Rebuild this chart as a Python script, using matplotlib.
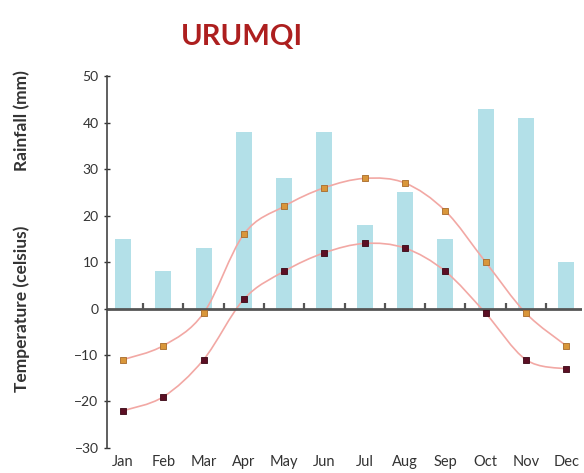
import numpy as np
import matplotlib.pyplot as plt
from matplotlib.path import Path
from matplotlib.patches import PathPatch

months = ["Jan", "Feb", "Mar", "Apr", "May", "Jun", "Jul", "Aug", "Sep", "Oct", "Nov", "Dec"]
rainfall = [15, 8, 13, 38, 28, 38, 18, 25, 15, 43, 41, 10]
temp_max = [-11, -8, -1, 16, 22, 26, 28, 27, 21, 10, -1, -8]
temp_min = [-22, -19, -11, 2, 8, 12, 14, 13, 8, -1, -11, -13]
yticks = [-30, -20, -10, 0, 10, 20, 30, 40, 50]

plt.rcParams["font.family"] = ["Lato", "DejaVu Sans"]


def smooth_path(xs, ys):
	# Catmull-Rom through the points, as cubic Bezier segments
	pts = np.column_stack([xs, ys]).astype(float)
	verts = [pts[0]]
	codes = [Path.MOVETO]
	for i in range(len(pts) - 1):
		p0 = pts[i - 1] if i > 0 else pts[i]
		p1, p2 = pts[i], pts[i + 1]
		p3 = pts[i + 2] if i + 2 < len(pts) else pts[i + 1]
		verts += [p1 + (p2 - p0) / 6, p2 - (p3 - p1) / 6, p2]
		codes += [Path.CURVE4] * 3
	return Path(verts, codes)


fig = plt.figure(figsize=(5.84, 4.73), dpi=100)
ax = fig.add_axes([0.183, 0.053, 0.814, 0.786])

x = np.arange(len(months))
ax.bar(x, rainfall, width=0.4, color="#b3e0e8", zorder=1)

for vals, mcol, ecol in [(temp_max, "#d9963a", "#a86a2a"), (temp_min, "#5c0f24", "#3a0614")]:
	ax.add_patch(PathPatch(smooth_path(x, vals), facecolor="none",
		edgecolor="#f2a8a4", lw=1.2, zorder=2))
	ax.scatter(x, vals, marker="s", s=22, color=mcol, edgecolors=ecol,
		linewidths=0.6, zorder=3)

ax.axhline(0, color="#555555", lw=2, zorder=2)
ax.vlines(x[:-1] + 0.5, 0, 1.2, color="#555555", lw=1.6, zorder=2)

ax.set_xlim(-0.4, 11.4)
ax.set_ylim(-30, 50)
ax.set_yticks(yticks)
ax.set_xticks(x)
ax.set_xticklabels(months)
ax.tick_params(axis="x", length=0, pad=5, labelsize=10.5, colors="#333333")
ax.tick_params(axis="y", length=4, width=1, labelsize=10, colors="#333333",
	direction="inout", pad=4)
for s in ["top", "right", "bottom"]:
	ax.spines[s].set_visible(False)
ax.spines["left"].set_color("#444444")
ax.spines["left"].set_linewidth(1.2)

label_kw = dict(rotation=90, ha="center", va="center", fontsize=12.5,
	fontweight="bold", color="#333333")
fig.text(0.038, 0.745, "Rainfall (mm)", **label_kw)
fig.text(0.038, 0.348, "Temperature (celsius)", **label_kw)
fig.text(0.31, 0.922, "URUMQI", ha="left", va="center", fontsize=21,
	fontweight="bold", color="#ad1f1f")

plt.savefig("out.png", dpi=100)
